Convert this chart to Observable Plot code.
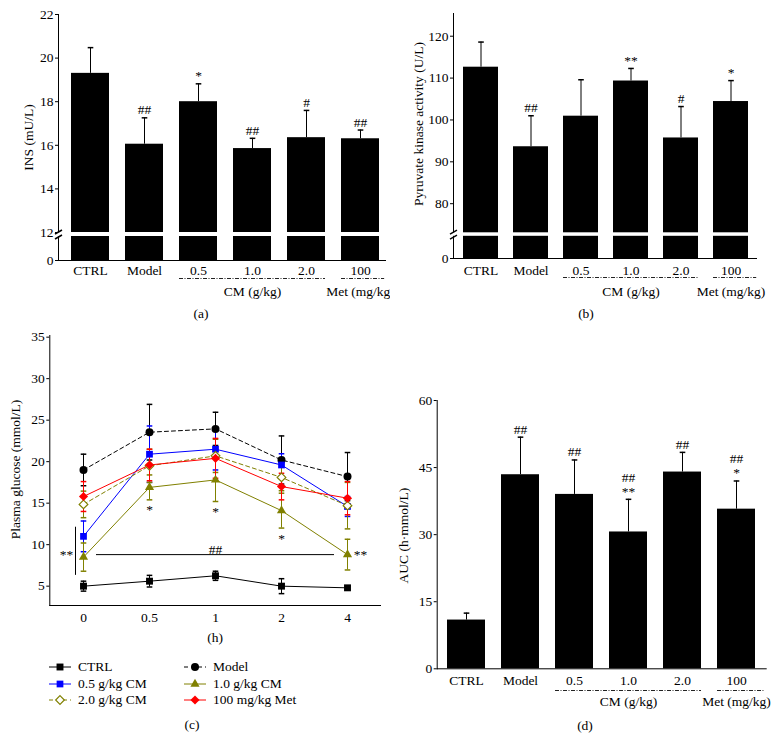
<!DOCTYPE html>
<html><head><meta charset="utf-8">
<script src="https://cdn.jsdelivr.net/npm/d3@7"></script>
<script src="https://cdn.jsdelivr.net/npm/@observablehq/plot@0.6"></script>
<style>
html,body{margin:0;padding:0;background:#fff;}
#fig{position:relative;width:783px;height:751px;background:#fff;font-family:"Liberation Serif","Times New Roman",serif;font-size:13.5px;color:#000;overflow:hidden}
.cap{position:absolute;transform:translate(-50%,-50%);white-space:nowrap}
</style></head><body><div id="fig"></div>
<script>
// ---------- DATA ----------
const groups = ["CTRL", "Model", "0.5", "1.0", "2.0", "100"];
const groupLabels = ["CM (g/kg)", "Met (mg/kg)"];
const groupAt = ["1.0", "100"];

// (a) INS
const insMean = [19.3, 16.05, 18.0, 15.85, 16.35, 16.3];
const insSD   = [1.18, 1.21, 0.82, 0.47, 1.25, 0.4];
const insSig  = ["", "##", "*", "##", "#", "##"];
const insTicks = [0, 12, 14, 16, 18, 20, 22];

// (b) Pyruvate kinase
const pkMean = [112.6, 93.6, 100.9, 109.3, 95.7, 104.4];
const pkSD   = [6.0, 7.4, 8.7, 3.0, 7.5, 5.0];
const pkSig  = ["", "##", "", "**", "#", "*"];
const pkTicks = [0, 80, 90, 100, 110, 120];

// (d) AUC
const aucMean = [10.9, 43.4, 39.0, 30.6, 44.0, 35.7];
const aucSD   = [1.55, 8.4, 7.7, 7.3, 4.4, 6.3];
const aucSig  = ["", "##", "##", "##\n**", "##", "##\n*"];
const aucTicks = [0, 15, 30, 45, 60];

// (c) Plasma glucose
const hours = ["0", "0.5", "1", "2", "4"];
const seriesNames = ["CTRL", "Model", "0.5 g/kg CM", "1.0 g/kg CM", "2.0 g/kg CM", "100 mg/kg Met"];
const ctrlMean  = [5.0, 5.6, 6.25, 5.0, 4.8];
const ctrlSD    = [0.6, 0.7, 0.55, 0.9, 0.2];
const modelMean = [19.0, 23.55, 23.95, 20.2, 18.2];
const modelSD   = [1.9, 3.35, 2.0, 2.9, 2.9];
const cm05Mean  = [11.0, 20.9, 21.5, 19.6, 14.6];
const cm05SD    = [1.85, 3.4, 2.5, 1.35, 1.2];
const cm10Mean  = [8.5, 16.9, 17.8, 14.1, 8.8];
const cm10SD    = [1.7, 1.5, 2.6, 2.1, 1.85];
const cm20Mean  = [14.85, 19.5, 20.7, 18.1, 14.7];
const cm20SD    = [1.6, 2.0, 2.0, 1.6, 2.8];
const metMean   = [15.8, 19.6, 20.4, 17.0, 15.6];
const metSD     = [1.8, 1.9, 2.4, 1.6, 2.0];
const cm10Sig   = ["", "*", "*", "*", ""];
const glucoseTicks = [5, 10, 15, 20, 25, 30, 35];
const bracket0h = [6.3, 12.1];

// ---------- STYLES ----------
const blue = "#0000ff", olive = "#808000", red = "#ff0000";
const sColors  = ["black", "black", blue, olive, olive, red];
const sFills   = ["black", "black", blue, olive, "white", red];
const sSymbols = ["square", "circle", "square", "triangle", "diamond2", "diamond2"];
const sRadii   = [3.9, 4.0, 3.8, 3.4, 3.9, 4.1];
const sDash    = [null, "4,3", null, null, "4,3", null];

const STYLE = {fontFamily: '"Liberation Serif","Times New Roman",serif', fontSize: "13.5px", background: "white", overflow: "visible"};
const capSym = {draw(c) { c.moveTo(-2.8, 0); c.lineTo(2.8, 0); }};
const breakSym = {draw(c) { c.moveTo(-3.5, -0.5); c.lineTo(3.5, -4.5); c.moveTo(-3.5, 4.5); c.lineTo(3.5, 0.5); }};
const DASHDOT = "4,1.5,1,1.5";

const fig = document.getElementById("fig");
function place(node, left, top) {
  node.style.position = "absolute";
  node.style.left = left + "px";
  node.style.top = top + "px";
  fig.appendChild(node);
}

function barPanel(o) {
  const rows = groups.map((g, i) => ({g, v: o.mean[i], e: o.sd[i], s: o.sig[i]}));
  const xOpts = {type: "band", domain: groups, paddingInner: o.pi, paddingOuter: o.po, align: o.align,
                 range: [o.ml, o.width - o.mr], label: null};
  const xs = Plot.scale({x: xOpts});
  const bw = xs.bandwidth;
  // the Met span runs from its bar to the right end of the axis
  const metInset = -(o.width - o.mr - xs.apply("100") - bw);
  const marks = [
    Plot.ruleX(rows, {x: "g", y1: "v", y2: d => d.v + d.e, stroke: "black"}),
    Plot.dot(rows, {x: "g", y: d => d.v + d.e, symbol: capSym, r: 3, stroke: "black", fill: "none"}),
    Plot.barY(rows, {x: "g", y1: () => 0, y2: "v", fill: "black"}),
    Plot.frame({anchor: "left"})
  ];
  if (o.brk) {
    const r0 = o.yRange[0], rB = o.yRange[1], B = o.yDomain[1];
    const lo = B * (r0 - (rB + o.brk)) / (r0 - rB);
    marks.push(Plot.rect([0], {y1: () => lo, y2: () => B, fill: "white", insetLeft: -3}));
    marks.push(Plot.dot([0], {y: () => (lo + B) / 2, frameAnchor: "left", symbol: breakSym, r: 3, stroke: "black", fill: "none"}));
  }
  marks.push(
    Plot.ruleY([0]),
    Plot.axisY({ticks: o.ticks, tickSize: 3, tickPadding: 2, label: null}),
    Plot.axisX({tickSize: 0, tickPadding: o.xPad, label: null}),
    Plot.text(rows, {x: "g", y: d => d.v + d.e, text: "s", lineAnchor: "bottom", lineHeight: 1.05, dy: -3.5}),
    Plot.ruleY([{from: "0.5", to: "2.0"}], {x1: "from", x2: "to", y: () => 0, dy: o.ruleDy, stroke: "#222", strokeDasharray: DASHDOT}),
    Plot.ruleY([{from: "100", to: "100"}], {x1: "from", x2: "to", y: () => 0, dy: o.ruleDy, insetRight: metInset, stroke: "#222", strokeDasharray: DASHDOT}),
    Plot.text(groupLabels.map((l, i) => ({l, at: groupAt[i]})), {x: "at", y: () => 0, text: "l", dy: o.groupDy, lineAnchor: "middle"}),
    Plot.text([o.title], {text: d => d, frameAnchor: "left", textAnchor: "middle", lineAnchor: "middle", rotate: -90, dx: o.titleDx, dy: o.titleDy || 0})
  );
  const y = {type: "linear", domain: o.yDomain};
  if (o.yRange) y.range = o.yRange;
  return Plot.plot({
    width: o.width, height: o.height,
    marginLeft: o.ml, marginRight: o.mr, marginTop: o.mt, marginBottom: o.mb,
    x: xOpts,
    y,
    style: STYLE,
    marks
  });
}

// (a)
place(barPanel({
  mean: insMean, sd: insSD, sig: insSig, ticks: insTicks,
  yDomain: [0, 12, 22], yRange: [260, 232, 14], brk: 4,
  width: 390, height: 300, ml: 58, mr: 4, mt: 14, mb: 40,
  pi: 0.29, po: 0.13, align: 0.64, xPad: 5.4, ruleDy: 18, groupDy: 31,
  title: "INS (mU/L)", titleDx: -30
}), 0, 0);

// (b)
place(barPanel({
  mean: pkMean, sd: pkSD, sig: pkSig, ticks: pkTicks,
  yDomain: [0, 73.05, 125.4], yRange: [258, 232.3, 13.1], brk: 3.5,
  width: 393, height: 300, ml: 63, mr: 26, mt: 13, mb: 42,
  pi: 0.293, po: 0.174, align: 0.53, xPad: 7.2, ruleDy: 19, groupDy: 33,
  title: "Pyruvate kinase activity (U/L)", titleDx: -35, titleDy: -12
}), 390, 0);

// (d)
place(barPanel({
  mean: aucMean, sd: aucSD, sig: aucSig, ticks: aucTicks,
  yDomain: [0, 60],
  width: 393, height: 390, ml: 46.7, mr: 16.3, mt: 80, mb: 41.7,
  pi: 0.291, po: 0.146, align: 0.475, xPad: 6.6, ruleDy: 21.7, groupDy: 32.5,
  title: "AUC (h·mmol/L)", titleDx: -33.4, titleDy: 1
}), 390, 320);

// (c)
const gMeans = [ctrlMean, modelMean, cm05Mean, cm10Mean, cm20Mean, metMean];
const gSDs = [ctrlSD, modelSD, cm05SD, cm10SD, cm20SD, metSD];
const seriesRows = seriesNames.map((name, k) => hours.map((t, j) => ({k, name, t, v: gMeans[k][j], e: gSDs[k][j]})));
const cMarks = [Plot.frame({anchor: "left"}), Plot.frame({anchor: "bottom"})];
seriesRows.forEach((rows, k) => {
  cMarks.push(Plot.line(rows, {x: "t", y: "v", stroke: sColors[k], strokeWidth: 1, strokeDasharray: sDash[k] || undefined}));
});
seriesRows.forEach((rows, k) => {
  cMarks.push(
    Plot.ruleX(rows, {x: "t", y1: d => d.v - d.e, y2: d => d.v + d.e, stroke: sColors[k]}),
    Plot.dot(rows, {x: "t", y: d => d.v + d.e, symbol: capSym, r: 3, stroke: sColors[k], fill: "none"}),
    Plot.dot(rows, {x: "t", y: d => d.v - d.e, symbol: capSym, r: 3, stroke: sColors[k], fill: "none"})
  );
});
seriesRows.forEach((rows, k) => {
  const open = sFills[k] === "white";
  cMarks.push(Plot.dot(rows, {x: "t", y: "v", symbol: sSymbols[k], r: sRadii[k], fill: sFills[k],
    stroke: open ? sColors[k] : "none", strokeWidth: open ? 1.2 : 0}));
});
const cm10Rows = seriesRows[3].map((d, j) => ({...d, s: cm10Sig[j]}));
cMarks.push(
  Plot.text(cm10Rows, {x: "t", y: d => d.v - d.e, text: "s", lineAnchor: "top", dy: 5}),
  Plot.ruleY([{a: hours[0], b: hours[4], y: cm10Mean[4]}], {x1: "a", x2: "b", y: "y", insetLeft: 13, insetRight: 13, stroke: "black"}),
  Plot.text([{t: hours[2], y: cm10Mean[4]}], {x: "t", y: "y", text: () => "##", lineAnchor: "bottom", dy: -1}),
  Plot.ruleX([{t: hours[0]}], {x: "t", y1: () => bracket0h[0], y2: () => bracket0h[1], dx: -8, stroke: "black"}),
  Plot.text([{t: hours[0], y: cm10Mean[4]}], {x: "t", y: "y", text: () => "**", dx: -17}),
  Plot.text([{t: hours[4], y: cm10Mean[4]}], {x: "t", y: "y", text: () => "**", dx: 13}),
  Plot.axisY({ticks: glucoseTicks, tickSize: 3, tickPadding: 2, label: null}),
  Plot.axisX({tickSize: 0, tickPadding: 6.6, label: null}),
  Plot.text(["(h)"], {text: d => d, frameAnchor: "bottom", lineAnchor: "middle", dy: 32}),
  Plot.text(["Plasma glucose (mmol/L)"], {text: d => d, frameAnchor: "left", textAnchor: "middle", lineAnchor: "middle", rotate: -90, dx: -34, dy: -1})
);
place(Plot.plot({
  width: 390, height: 330, marginLeft: 49.3, marginRight: 10, marginTop: 15, marginBottom: 45,
  x: {type: "point", domain: hours, padding: 0.5, label: null},
  y: {type: "linear", domain: [2.67, 35.2], label: null},
  style: STYLE,
  marks: cMarks
}), 0, 320);

// legend for (c)
const d3sym = {square: d3.symbolSquare, circle: d3.symbolCircle, triangle: d3.symbolTriangle, diamond2: d3.symbolDiamond2};
const leg = document.createElement("div");
leg.style.width = "300px"; leg.style.height = "52px";
place(leg, 49, 659);
seriesNames.forEach((name, k) => {
  const col = k % 2, row = Math.floor(k / 2);
  const item = document.createElement("div");
  item.style.cssText = `position:absolute;left:${col * 135}px;top:${row * 16.5}px;height:16px;display:flex;align-items:center;white-space:nowrap`;
  const svg = d3.create("svg").attr("width", 22).attr("height", 16).style("display", "block");
  svg.append("line").attr("x1", 0).attr("x2", 22).attr("y1", 8).attr("y2", 8)
    .attr("stroke", sColors[k]).attr("stroke-dasharray", sDash[k]);
  const open = sFills[k] === "white";
  svg.append("path").attr("transform", "translate(11,8)")
    .attr("d", d3.symbol(d3sym[sSymbols[k]], Math.PI * sRadii[k] ** 2)())
    .attr("fill", sFills[k]).attr("stroke", open ? sColors[k] : "none").attr("stroke-width", open ? 1.2 : 0);
  item.appendChild(svg.node());
  const span = document.createElement("span");
  span.textContent = name;
  span.style.marginLeft = "7px";
  item.appendChild(span);
  leg.appendChild(item);
});

// panel captions
[["(a)", 201, 314], ["(b)", 586, 314], ["(c)", 192, 725], ["(d)", 585, 726]].forEach(([t, x, y]) => {
  const d = document.createElement("div");
  d.className = "cap"; d.textContent = t;
  d.style.left = x + "px"; d.style.top = y + "px";
  fig.appendChild(d);
});
</script>
</body></html>
